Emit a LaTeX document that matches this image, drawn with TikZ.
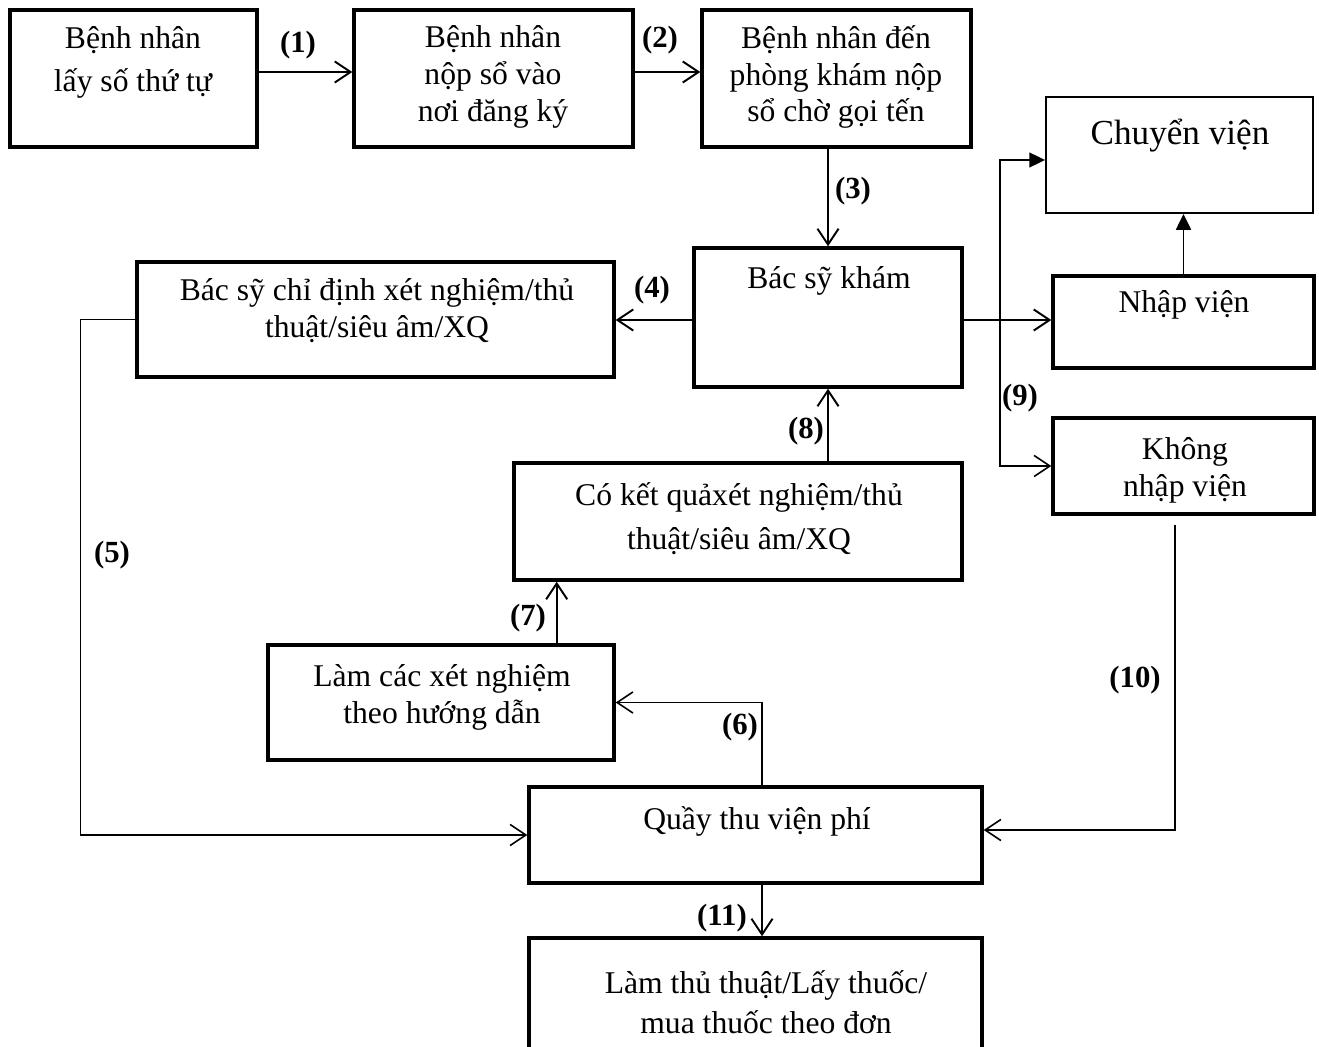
\documentclass[tikz,border=0pt]{standalone}
\usepackage{fontspec}
\setmainfont{Liberation Serif}
\usetikzlibrary{arrows.meta, positioning, calc}
\tikzset{
    box/.style={
        rectangle, draw=black, line width=2pt, fill=white,
        inner sep=0pt
    },
    thinbox/.style={
        rectangle, draw=black, line width=1.1pt, fill=white,
        inner sep=0pt
    },
    txt/.style={
        font=\fontsize{18}{21}\selectfont, align=center, inner sep=0pt
    },
    num/.style={font=\fontsize{17.5}{20}\selectfont\bfseries, inner sep=0pt},
    arrow/.style={-{Straight Barb[length=9pt, width=12pt]}, line width=1.1pt},
    thinarrow/.style={-{Straight Barb[length=9pt, width=12pt]}, line width=0.9pt},
    triarrow/.style={-{Triangle[length=9pt, width=8.5pt]}, line width=1.1pt}
}
\begin{document}
\begin{tikzpicture}[x=0.02cm, y=-0.02cm]
    \useasboundingbox (0,0) rectangle (1319,1047);

    % Top row
    \node[box, minimum width=4.94cm, minimum height=2.74cm] (laySo) at (133.5,78.5) {};
    \node[txt, font=\fontsize{18}{24.5}\selectfont] (laySoT) at (133,62) {Bệnh nhân\\lấy số thứ tự};

    \node[box, minimum width=5.58cm, minimum height=2.74cm] (nopSo) at (493.5,78.5) {};
    \node[txt] (nopSoT) at (493,77) {Bệnh nhân\\nộp sổ vào\\nơi đăng ký};

    \node[box, minimum width=5.38cm, minimum height=2.74cm] (phongKham) at (836.5,78.5) {};
    \node[txt] (phongKhamT) at (836,77) {Bệnh nhân đến\\phòng khám nộp\\sổ chờ gọi tến};

    % Doctor and right branch
    \node[box, minimum width=5.36cm, minimum height=2.78cm] (kham) at (828,317.5) {};
    \node[txt] (khamT) at (829,281) {Bác sỹ khám};

    \node[thinbox, minimum width=5.34cm, minimum height=2.32cm] (chuyen) at (1179.5,155) {};
    \node[txt, font=\fontsize{20}{24}\selectfont] (chuyenT) at (1180,136) {Chuyển viện};

    \node[box, minimum width=5.22cm, minimum height=1.84cm] (nhap) at (1183.5,322) {};
    \node[txt] (nhapT) at (1184,305) {Nhập viện};

    \node[box, minimum width=5.22cm, minimum height=1.92cm] (khong) at (1183.5,466) {};
    \node[txt] (khongT) at (1185,470) {Không\\nhập viện};

    % Left and middle column
    \node[box, minimum width=9.54cm, minimum height=2.3cm] (chiDinh) at (375.5,319.5) {};
    \node[txt] (chiDinhT) at (377,311) {Bác sỹ chỉ định xét nghiệm/thủ\\thuật/siêu âm/XQ};

    \node[box, minimum width=8.96cm, minimum height=2.34cm] (ketQua) at (738,521.5) {};
    \node[txt, font=\fontsize{18}{25}\selectfont] (ketQuaT) at (739,519) {Có kết quảxét nghiệm/thủ\\thuật/siêu âm/XQ};

    \node[box, minimum width=6.92cm, minimum height=2.3cm] (lamXN) at (441,702.5) {};
    \node[txt] (lamXNT) at (442,697) {Làm các xét nghiệm\\theo hướng dẫn};

    \node[box, minimum width=9.06cm, minimum height=1.92cm] (quay) at (755.5,835) {};
    \node[txt] (quayT) at (757,821) {Quầy thu viện phí};

    \node[box, minimum width=9.06cm, minimum height=2.34cm] (lamThu) at (755.5,996.5) {};
    \node[txt, font=\fontsize{18}{22.5}\selectfont] (lamThuT) at (766,1002) {Làm thủ thuật/Lấy thuốc/\\mua thuốc theo đơn};

    % Arrows
    \draw[arrow] ($(laySo.east)+(0,-6.5)$) -- ($(nopSo.west)+(0,-6.5)$);
    \node[num] (n1) at (298,45) {(1)};
    \draw[arrow] ($(nopSo.east)+(0,-6.5)$) -- ($(phongKham.west)+(0,-6.5)$);
    \node[num] (n2) at (660,40) {(2)};
    \draw[arrow] (phongKham.south -| kham.north) -- (kham.north);
    \node[num] (n3) at (853,191) {(3)};
    \draw[arrow] ($(kham.west)+(0,2.5)$) coordinate (p4) -- (p4 -| chiDinh.east);
    \node[num] (n4) at (652,290) {(4)};

    % Branch (9)
    \coordinate (fork) at (1000,320);
    \draw[arrow] ($(kham.east)+(0,2.5)$) -- (fork -| nhap.west);
    \draw[thinarrow] (fork) |- (khong.west);
    \draw[triarrow, line width=0.9pt] (fork) |- ($(chuyen.west)+(0,5)$);
    \node[num] (n9) at (1020,398) {(9)};
    \draw[triarrow] (nhap.north) -- (nhap.north |- chuyen.south);

    % (5)
    \draw[thinarrow] (chiDinh.west) -- ++(-55,0) |- (quay.west);
    \node[num] (n5) at (112,555) {(5)};

    % (6), (7), (8)
    \draw[thinarrow] ($(quay.north)+(6.5,0)$) |- (lamXN.east);
    \node[num] (n6) at (740,727) {(6)};
    \draw[arrow] ($(lamXN.north east)+(-59,0)$) coordinate (p7) -- (p7 |- ketQua.south);
    \node[num] (n7) at (528,618) {(7)};
    \draw[arrow] (kham.south |- ketQua.north) -- (kham.south);
    \node[num] (n8) at (806,431) {(8)};

    % (10), (11)
    \draw[thinarrow] ($(khong.south)+(-8.5,9)$) coordinate (p10) |- ($(quay.east)+(0,-5)$);
    \node[num] (n10) at (1135,680) {(10)};
    \draw[arrow] ($(quay.south)+(6.5,0)$) coordinate (p11) -- (p11 |- lamThu.north);
    \node[num] (n11) at (722,918) {(11)};
\end{tikzpicture}
\end{document}
